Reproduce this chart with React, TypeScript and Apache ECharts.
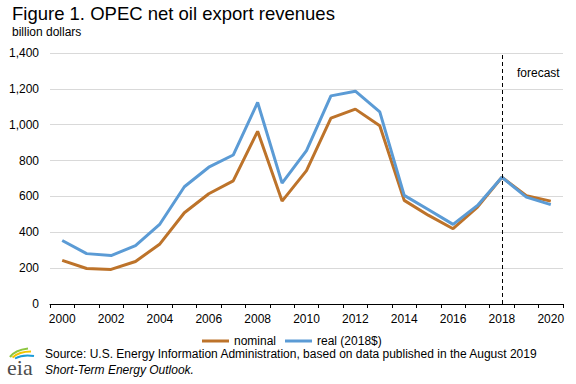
import React, { useEffect, useRef } from "react";
import * as echarts from "echarts";

const years = [
  "2000", "2001", "2002", "2003", "2004", "2005", "2006", "2007", "2008", "2009",
  "2010", "2011", "2012", "2013", "2014", "2015", "2016", "2017", "2018", "2019", "2020",
];
const nominal = [243, 198, 193, 237, 335, 509, 615, 687, 963, 574, 744, 1037, 1087, 994, 578, 494, 420, 541, 707, 604, 574];
const real = [354, 281, 270, 326, 446, 654, 763, 831, 1124, 674, 856, 1161, 1187, 1072, 606, 526, 444, 550, 707, 596, 554];
const forecastStart = "2018";

const titleText = "Figure 1. OPEC net oil export revenues";
const unitText = "billion dollars";
const sourceLine1 = "Source: U.S. Energy Information Administration, based on data published in the August 2019";
const sourceLine2 = "Short-Term Energy Outlook.";

const FONT = "'Liberation Sans', Arial, sans-serif";

export default function App() {
  const ref = useRef<HTMLDivElement>(null);
  useEffect(() => {
    if (!ref.current) return;
    const chart = echarts.init(ref.current, null, { renderer: "svg" });
    chart.setOption({
      animation: false,
      backgroundColor: "#ffffff",
      textStyle: { fontFamily: FONT },
      grid: { left: 50, right: 13, top: 53, bottom: 80, containLabel: false },
      legend: {
        left: 197,
        top: 330,
        itemWidth: 27,
        itemHeight: 3,
        itemGap: 9,
        icon: "rect",
        textStyle: { fontSize: 12, color: "#000", fontFamily: FONT },
        data: ["nominal", "real (2018$)"],
      },
      xAxis: {
        type: "category",
        data: years,
        boundaryGap: true,
        axisLine: { lineStyle: { color: "#000", width: 1 } },
        axisTick: { show: true, interval: 0, length: 4, lineStyle: { color: "#000" } },
        axisLabel: { interval: 1, fontSize: 12, color: "#000", margin: 9, fontFamily: FONT },
        splitLine: { show: false },
      },
      yAxis: {
        type: "value",
        min: 0,
        max: 1400,
        interval: 200,
        axisLine: { show: false },
        axisTick: { show: false },
        axisLabel: {
          fontSize: 12,
          color: "#000",
          margin: 11,
          fontFamily: FONT,
          formatter: (v: number) => v.toLocaleString("en-US"),
        },
        splitLine: { lineStyle: { color: "#d9d9d9", width: 1 } },
      },
      series: [
        {
          name: "nominal",
          type: "line",
          data: nominal,
          symbol: "none",
          lineStyle: { color: "#BD732A", width: 3 },
          itemStyle: { color: "#BD732A" },
          markLine: {
            silent: true,
            symbol: ["none", "none"],
            label: { show: false },
            lineStyle: { color: "#000", type: [4, 3], width: 1 },
            data: [{ xAxis: forecastStart }],
          },
        },
        {
          name: "real (2018$)",
          type: "line",
          data: real,
          symbol: "none",
          lineStyle: { color: "#5B9BD5", width: 3 },
          itemStyle: { color: "#5B9BD5" },
        },
      ],
      graphic: [
        {
          type: "text",
          left: 12,
          top: 4,
          style: { text: titleText, font: `18.5px ${FONT}`, fill: "#000" },
        },
        {
          type: "text",
          left: 12,
          top: 26,
          style: { text: unitText, font: `12px ${FONT}`, fill: "#000" },
        },
        {
          type: "text",
          left: 517,
          top: 67,
          style: { text: "forecast", font: `12px ${FONT}`, fill: "#000" },
        },
        {
          type: "text",
          left: 45,
          top: 348,
          style: { text: sourceLine1, font: `12px ${FONT}`, fill: "#000" },
        },
        {
          type: "text",
          left: 45,
          top: 364,
          style: { text: sourceLine2, font: `italic 12px ${FONT}`, fill: "#000" },
        },
        {
          type: "bezierCurve",
          shape: { x1: 10, y1: 357, x2: 28, y2: 348.5, cpx1: 15, cpy1: 350 },
          style: { stroke: "#8DC63F", lineWidth: 2.2, fill: "none" },
        },
        {
          type: "bezierCurve",
          shape: { x1: 12.5, y1: 357.5, x2: 31, y2: 351.5, cpx1: 19, cpy1: 351.5 },
          style: { stroke: "#F2C500", lineWidth: 2, fill: "none" },
        },
        {
          type: "bezierCurve",
          shape: { x1: 15, y1: 358.5, x2: 34, y2: 356, cpx1: 23, cpy1: 354 },
          style: { stroke: "#1C9CD8", lineWidth: 2, fill: "none" },
        },
        {
          type: "text",
          left: 7,
          top: 356,
          style: { text: "eia", font: `22px 'Liberation Serif', 'DejaVu Serif', serif`, fill: "#4d4d4d" },
        },
      ],
    });
    return () => chart.dispose();
  }, []);
  return (
    <div
      ref={ref}
      style={{ position: "fixed", left: 0, top: 0, width: 576, height: 384, background: "#fff" }}
    />
  );
}
